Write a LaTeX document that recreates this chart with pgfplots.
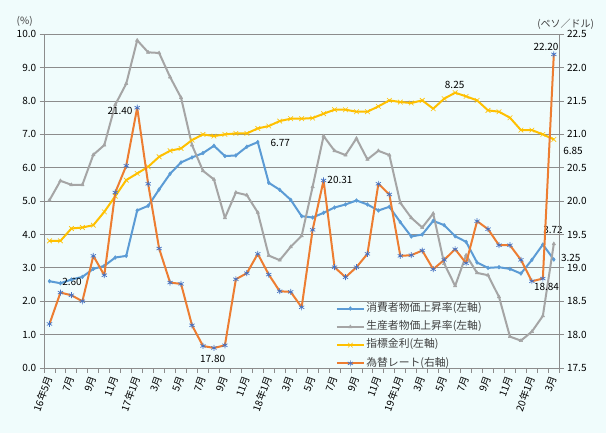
\documentclass[border=0pt]{standalone}
\usepackage{fontspec}
\setmainfont{Noto Sans CJK JP}
\usepackage{pgfplots}
\usepackage{pgfplotstable}
\pgfplotsset{compat=1.18}
\definecolor{bg}{HTML}{F0FCFC}
\definecolor{cpi}{HTML}{5B9BD5}
\definecolor{ppi}{HTML}{A5A5A5}
\definecolor{rate}{HTML}{FFC000}
\definecolor{fx}{HTML}{ED7D31}
\definecolor{fxmark}{HTML}{4472C4}
\definecolor{gridc}{HTML}{8C8C8C}
\definecolor{txt}{HTML}{404040}
\tikzset{lab/.style={font=\fontsize{10}{12}\selectfont, inner sep=0pt, anchor=center, text=black}}
\pgfplotsset{
  common/.style={
    scale only axis, width=515.3pt, height=333.7pt,
    at={(44pt,65pt)}, anchor=south west,
    xmin=-0.5, xmax=46.5,
    tick align=outside,
    tick label style={font=\fontsize{10}{12}\selectfont, text=black},
    /pgf/number format/assume math mode=true,
    axis line style={-, gridc, line width=0.9pt},
    tick style={gridc, line width=0.9pt},
    clip=false,
  },
}
\pgfplotstableread{
i cpi ppi rate fx
0 2.60 5.03 3.81 18.16
1 2.54 5.61 3.81 18.63
2 2.65 5.49 4.18 18.59
3 2.73 5.49 4.21 18.50
4 2.97 6.39 4.28 19.18
5 3.06 6.68 4.68 18.89
6 3.31 7.89 5.15 20.13
7 3.36 8.52 5.63 20.53
8 4.72 9.82 5.83 21.40
9 4.86 9.46 6.03 20.26
10 5.35 9.44 6.33 19.29
11 5.82 8.72 6.51 18.78
12 6.16 8.10 6.58 18.76
13 6.31 6.68 6.83 18.14
14 6.44 5.91 7.00 17.83
15 6.66 5.65 6.95 17.80
16 6.35 4.50 7.00 17.84
17 6.37 5.26 7.03 18.83
18 6.63 5.18 7.03 18.92
19 6.77 4.66 7.18 19.21
20 5.55 3.37 7.25 18.90
21 5.34 3.23 7.40 18.65
22 5.04 3.63 7.47 18.64
23 4.55 3.96 7.47 18.41
24 4.51 5.43 7.49 19.57
25 4.65 6.95 7.62 20.31
26 4.81 6.51 7.74 19.01
27 4.90 6.38 7.74 18.86
28 5.02 6.88 7.68 19.01
29 4.90 6.25 7.68 19.21
30 4.72 6.51 7.84 20.26
31 4.83 6.38 8.02 20.10
32 4.37 4.95 7.97 19.18
33 3.94 4.50 7.94 19.19
34 4.00 4.21 8.02 19.26
35 4.41 4.63 7.77 18.98
36 4.28 3.13 8.07 19.12
37 3.95 2.46 8.25 19.28
38 3.78 3.38 8.14 19.07
39 3.16 2.85 8.02 19.70
40 3.00 2.78 7.72 19.58
41 3.02 2.13 7.68 19.34
42 2.97 0.94 7.50 19.34
43 2.83 0.82 7.13 19.12
44 3.24 1.09 7.13 18.80
45 3.70 1.56 7.00 18.84
46 3.25 3.72 6.85 22.20
}\data
\begin{document}
\begin{tikzpicture}
\path[use as bounding box, fill=bg] (0,0) rectangle (606pt,433pt);
\begin{axis}[common,
  ymin=0, ymax=10, ytick={0,1,...,10},
  axis x line*=bottom, axis y line*=left,
  ymajorgrids, grid style={gridc, line width=0.9pt},
  xtick={0,2,...,46},
  xticklabels={16年5月,7月,9月,11月,17年1月,3月,5月,7月,9月,11月,18年1月,3月,5月,7月,9月,11月,19年1月,3月,5月,7月,9月,11月,20年1月,3月},
  minor xtick={-0.5,0.5,...,46.5},
  major tick length=4.3pt, minor tick length=5pt,
  major x tick style={draw=none},
  yticklabel style={/pgf/number format/fixed, /pgf/number format/fixed zerofill, /pgf/number format/precision=1},
  xticklabel style={anchor=east, rotate=70, inner sep=1pt, xshift=-3pt, yshift=-1.1pt},
  legend cell align=left,
  legend style={at={(0.566,0.199)}, anchor=north west, draw=none, fill=none,
    font=\fontsize{10.8}{12}\selectfont, text=txt, inner sep=0pt, row sep=4.8pt,
    nodes={inner sep=1.5pt, text height=8pt, text depth=2.5pt}},
  legend image code/.code={\draw[mark repeat=2,mark phase=2,#1] plot coordinates {(0pt,0pt)(13.5pt,0pt)(27pt,0pt)};},
]
\addplot[cpi, line width=2pt, line join=round, mark=diamond*, mark size=1.9pt, mark options={solid, fill=cpi, line width=0.5pt}] table[x=i,y=cpi]{\data};
\addlegendentry{消費者物価上昇率(左軸)}
\addplot[ppi, line width=2pt, line join=round, mark=triangle*, mark size=2pt, mark options={solid, fill=ppi, line width=0.5pt}] table[x=i,y=ppi]{\data};
\addlegendentry{生産者物価上昇率(左軸)}
\addplot[rate, line width=2pt, line join=round, mark=x, mark size=3.3pt, mark options={solid, line width=0.6pt}] table[x=i,y=rate]{\data};
\addlegendentry{指標金利(左軸)}
\addlegendimage{fx, line width=2pt, mark=asterisk, mark size=3pt, mark options={solid, fxmark, line width=0.7pt}}
\addlegendentry{為替レート(右軸)}
\node[lab, xshift=22.5pt, yshift=-0.5pt] at (axis cs:0,2.60) {2.60};
\node[lab, xshift=22.5pt, yshift=-0.7pt] at (axis cs:19,6.77) {6.77};
\node[lab, xshift=-0.5pt, yshift=7.7pt] at (axis cs:37,8.25) {8.25};
\node[lab, xshift=19.2pt, yshift=-11.7pt] at (axis cs:46,6.85) {6.85};
\node[lab, xshift=-0.8pt, yshift=13.9pt] at (axis cs:46,3.72) {3.72};
\node[lab, xshift=17pt, yshift=1.2pt] at (axis cs:46,3.25) {3.25};
\end{axis}
\begin{axis}[common,
  ymin=17.5, ymax=22.5, ytick={17.5,18,...,22.5},
  axis y line*=right, hide x axis,
  major tick length=4.3pt,
  yticklabel style={/pgf/number format/fixed, /pgf/number format/fixed zerofill, /pgf/number format/precision=1},
]
\addplot[fx, line width=2pt, line join=round, mark=asterisk, mark size=3pt, mark options={solid, fxmark, line width=0.7pt}] table[x=i,y=fx]{\data};
\node[lab, xshift=-17.2pt, yshift=-3.4pt] at (axis cs:8,21.40) {21.40};
\node[lab, xshift=16.4pt, yshift=1pt] at (axis cs:25,20.31) {20.31};
\node[lab, xshift=-1.3pt, yshift=-10.6pt] at (axis cs:15,17.80) {17.80};
\node[lab, xshift=-7.8pt, yshift=7.4pt] at (axis cs:46,22.20) {22.20};
\node[lab, xshift=3.7pt, yshift=-8.2pt] at (axis cs:45,18.84) {18.84};
\end{axis}
\node[font=\fontsize{10}{12}\selectfont, text=txt, inner sep=0pt] at (24.7pt,411.3pt) {(\%)};
\node[font=\fontsize{10}{12}\selectfont, text=txt, inner sep=0pt] at (565.7pt,409pt) {(ペソ／ドル)};
\end{tikzpicture}
\end{document}
